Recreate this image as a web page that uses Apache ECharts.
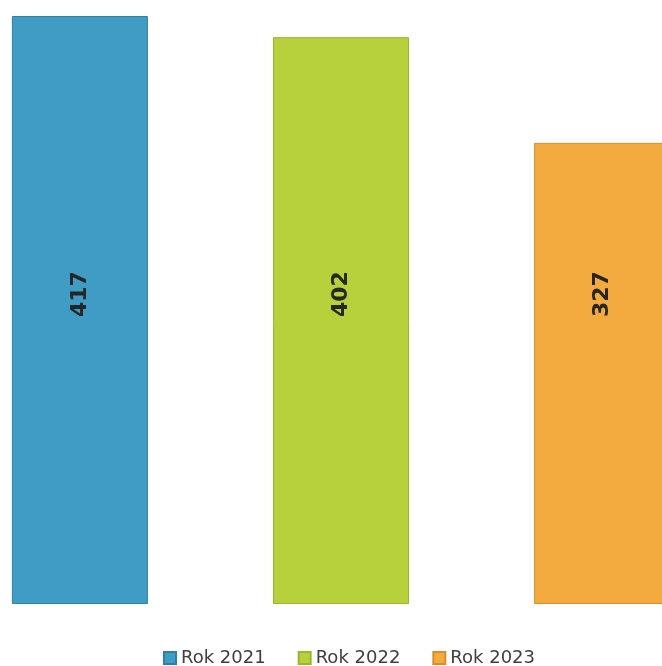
<!DOCTYPE html>
<html>
<head>
<meta charset="utf-8">
<script src="https://cdn.jsdelivr.net/npm/echarts@6/dist/echarts.min.js"></script>
<style>
  html, body { margin: 0; padding: 0; background: #fff; }
  #chart { width: 662px; height: 666px; }
</style>
</head>
<body>
<div id="chart"></div>
<script>
// one category, one series per year
const categories = [""];
const seriesNames = ["Rok 2021", "Rok 2022", "Rok 2023"];
const values = [417, 402, 327];
const colors = ["#3e9cc5", "#b7d13d", "#f3aa3f"];
const borders = ["#2f7fa6", "#9cb52c", "#d98e2a"];

const chart = echarts.init(document.getElementById("chart"));

const series = seriesNames.map((name, i) => ({
  name: name,
  type: "bar",
  data: [values[i]],
  barWidth: 136,
  barGap: "92%",
  clip: false,
  itemStyle: {
    color: colors[i],
    borderColor: borders[i],
    borderWidth: 1
  },
  label: {
    show: true,
    position: "insideBottom",
    distance: 287,
    rotate: 90,
    align: "left",
    verticalAlign: "middle",
    fontFamily: "DejaVu Sans",
    fontWeight: "bold",
    fontSize: 22,
    color: "#262626"
  }
}));

chart.setOption({
  animation: false,
  color: colors,
  grid: { left: 20, right: 0, top: 16, bottom: 62 },
  xAxis: {
    type: "category",
    data: categories,
    axisLine: { show: false },
    axisTick: { show: false },
    axisLabel: { show: false }
  },
  yAxis: {
    type: "value",
    min: 0,
    max: 417,
    show: false,
    splitLine: { show: false }
  },
  legend: {
    data: seriesNames,
    left: 158,
    top: 644,
    icon: "rect",
    itemWidth: 12,
    itemHeight: 12,
    itemGap: 32,
    textStyle: { fontFamily: "DejaVu Sans", fontSize: 18, color: "#404040" }
  },
  series: series
});
</script>
</body>
</html>
